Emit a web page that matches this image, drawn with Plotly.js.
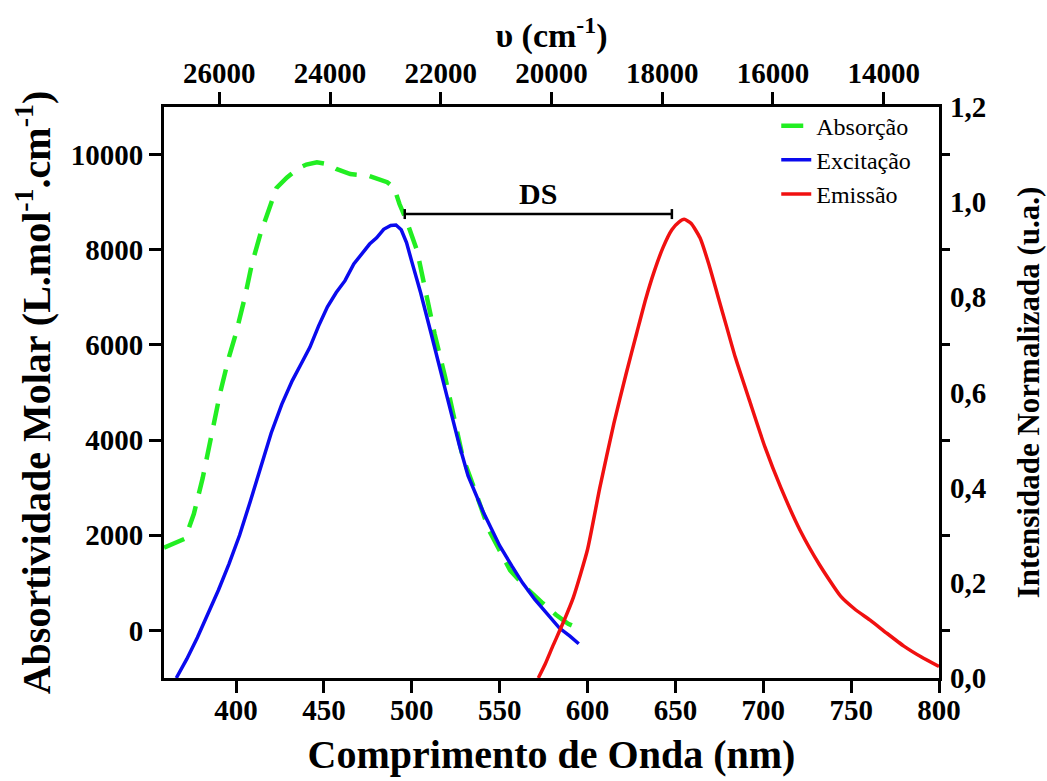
<!DOCTYPE html>
<html><head><meta charset="utf-8">
<script src="https://cdn.plot.ly/plotly-3.0.1.min.js"></script>
<style>html,body{margin:0;padding:0;background:#fff}#chart{width:1047px;height:781px}</style>
</head><body><div id="chart"></div>
<script>
// Absorption (molar absorptivity, left axis)
const absWavelength = [359,365,371,376,381,386,391,396,400,405,409,414,419,423,429,435,440,446,452,457,465,476,486,490,493,497,503,508,513,519,524,529,536,544,556,565,574,582,589,595];
const absMolar = [1740,1830,1930,2450,3200,4100,5000,5750,6250,7000,7700,8350,8900,9300,9520,9700,9790,9840,9800,9700,9590,9550,9420,9300,8960,8610,7980,7100,6230,5320,4480,3640,2940,2100,1260,900,590,330,140,40];
// Excitation (normalized, right axis)
const excWavelength = [366,372,378,384,390,396,402,408,414,420,426,432,437,442,447,452,457,462,467,472,476,480,484,488,491,494,497,500,505,511,517,522,527,532,541,550,557,563,570,577,584,590,595];
const excIntensity = [0.0,0.04,0.085,0.135,0.185,0.24,0.30,0.37,0.445,0.515,0.575,0.625,0.66,0.695,0.74,0.78,0.81,0.835,0.87,0.895,0.912,0.925,0.943,0.951,0.952,0.942,0.915,0.875,0.81,0.724,0.64,0.563,0.49,0.425,0.346,0.278,0.235,0.20,0.165,0.136,0.105,0.088,0.072];
// Emission (normalized, right axis)
const emWavelength = [572,576,580,586,592,600,607,615,622,628,633,638,643,648,652,655,659,664,669,674,679,684,692,701,710,721,732,744,752,761,770,780,790,800];
const emIntensity = [0.0,0.03,0.065,0.115,0.17,0.27,0.40,0.535,0.64,0.725,0.795,0.855,0.905,0.942,0.958,0.964,0.955,0.925,0.87,0.805,0.74,0.675,0.585,0.485,0.40,0.31,0.238,0.172,0.145,0.121,0.095,0.067,0.044,0.024];

const bottomTicks = [400,450,500,550,600,650,700,750,800];
const topTicks = [26000,24000,22000,20000,18000,16000,14000];
const leftTicks = [0,2000,4000,6000,8000,10000];
const rightLabelVals = [0,0.2,0.4,0.6,0.8,1.0,1.2];
const rightLabelText = ['0,0','0,2','0,4','0,6','0,8','1,0','1,2'];
const rightTickVals = [0.1,0.3,0.5,0.7,0.9,1.1];
const seriesNames = ['Absorção','Excitação','Emissão'];
const dsStart = 496, dsEnd = 648, dsLevel = 8750;

const F = 'Liberation Serif, Times New Roman, serif';
const tickFont = {family:F, size:29, color:'#000', weight:'bold'};
const titleFont = {family:F, size:40, color:'#000', weight:'bold'};

const traces = [
  {x:absWavelength, y:absMolar, name:seriesNames[0], type:'scatter', mode:'lines', xaxis:'x', yaxis:'y',
   line:{color:'#22ee22', width:4.5, dash:'22px,13px'}},
  {x:excWavelength, y:excIntensity, name:seriesNames[1], type:'scatter', mode:'lines', xaxis:'x', yaxis:'y2',
   line:{color:'#0a0aee', width:3.5}},
  {x:emWavelength, y:emIntensity, name:seriesNames[2], type:'scatter', mode:'lines', xaxis:'x', yaxis:'y2',
   line:{color:'#f01010', width:3.5, shape:'spline', smoothing:0.5}},
  {x:topTicks, y:topTicks.map(()=>null), type:'scatter', mode:'lines', xaxis:'x2', yaxis:'y3',
   showlegend:false, hoverinfo:'skip'}
];

const baseAx = {showline:true, linewidth:3, linecolor:'#000', showgrid:false, zeroline:false,
  ticks:'outside', tickwidth:3, tickcolor:'#000', tickfont:tickFont, fixedrange:true};

const layout = {
  width:1047, height:781,
  margin:{l:164, r:108, t:107, b:103},
  paper_bgcolor:'#fff', plot_bgcolor:'#fff',
  showlegend:true,
  legend:{x:0.79, xanchor:'left', y:1.006, yanchor:'top', bgcolor:'rgba(0,0,0,0)',
          font:{family:F, size:24, color:'#000'}, tracegroupgap:0},
  xaxis:Object.assign({}, baseAx, {range:[359,800], tickmode:'array', tickvals:bottomTicks,
          ticktext:bottomTicks.map(String), ticklen:12, ticklabelstandoff:-8,
          title:{text:'Comprimento de Onda (nm)', font:titleFont, standoff:16}}),
  xaxis2:Object.assign({}, baseAx, {overlaying:'x', side:'top', anchor:'y', range:[27000,13000],
          tickmode:'array', tickvals:topTicks, ticktext:topTicks.map(String), ticklen:12, ticklabelstandoff:-3,
          title:{text:'υ (cm<sup>-1</sup>)', font:{family:F, size:34, color:'#000', weight:'bold'}, standoff:0}}),
  yaxis:Object.assign({}, baseAx, {range:[-1000,11000], tickmode:'array', tickvals:leftTicks,
          ticktext:leftTicks.map(String), ticklen:12,
          title:{text:'Absortividade Molar (L.mol<sup>-1</sup>.cm<sup>-1</sup>)', font:titleFont, standoff:8}}),
  yaxis2:Object.assign({}, baseAx, {overlaying:'y', side:'right', anchor:'x', range:[0,1.2],
          tickmode:'array', tickvals:rightTickVals, ticklen:8, showticklabels:false}),
  yaxis3:Object.assign({}, baseAx, {overlaying:'y', side:'right', anchor:'x', range:[0,1.2], showline:false,
          ticks:'', tickmode:'array', tickvals:rightLabelVals, ticktext:rightLabelText, ticklabelstandoff:10,
          title:{text:'Intensidade Normalizada (u.a.)', font:{family:F, size:31, color:'#000', weight:'bold'}, standoff:32}}),
  shapes:[
    {type:'line', xref:'x', yref:'y', x0:dsStart, x1:dsEnd, y0:dsLevel, y1:dsLevel, line:{color:'#000', width:2.5}},
    {type:'line', xref:'x', yref:'y', ysizemode:'pixel', yanchor:dsLevel, x0:dsStart, x1:dsStart, y0:-5, y1:5, line:{color:'#000', width:2.5}},
    {type:'line', xref:'x', yref:'y', ysizemode:'pixel', yanchor:dsLevel, x0:dsEnd, x1:dsEnd, y0:-5, y1:5, line:{color:'#000', width:2.5}}
  ],
  annotations:[
    {xref:'x', yref:'y', x:(dsStart+dsEnd)/2, y:dsLevel, yshift:21, text:'DS', showarrow:false,
     font:{family:F, size:30, color:'#000', weight:'bold'}}
  ]
};

Plotly.newPlot('chart', traces, layout, {displayModeBar:false, staticPlot:true});
</script>
</body></html>
